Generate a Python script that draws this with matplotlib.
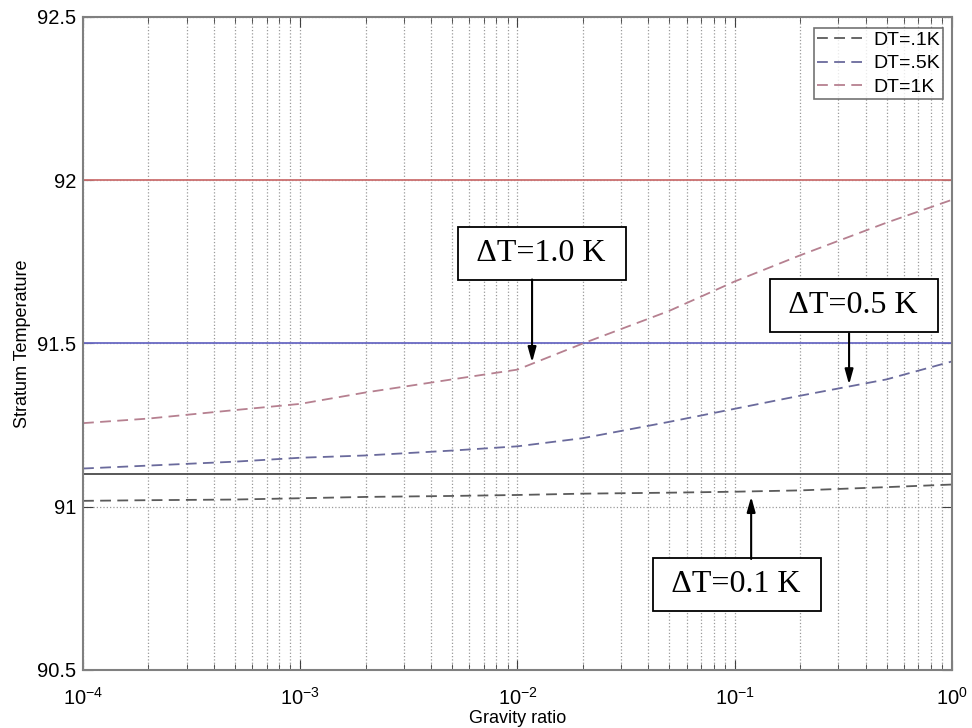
import numpy as np
import matplotlib
matplotlib.use("Agg")
import matplotlib.pyplot as plt
from matplotlib.ticker import LogLocator, NullFormatter, FixedLocator

plt.rcParams["font.family"] = ["Liberation Sans", "DejaVu Sans"]
plt.rcParams["mathtext.fontset"] = "custom"
plt.rcParams["mathtext.rm"] = "Liberation Sans"
plt.rcParams["mathtext.it"] = "Liberation Sans"
plt.rcParams["mathtext.default"] = "regular"
plt.rcParams["axes.unicode_minus"] = False

# gravity ratio (x) and stratum temperature (y)
gravity = [1e-4, 2e-4, 5e-4, 1e-3, 2e-3, 5e-3, 1e-2, 2e-2, 5e-2, 1e-1, 2e-1, 5e-1, 1.0]
temp_dt01 = [91.018, 91.020, 91.022, 91.026, 91.030, 91.033, 91.036,
             91.040, 91.043, 91.046, 91.050, 91.060, 91.068]
temp_dt05 = [91.117, 91.126, 91.138, 91.150, 91.157, 91.172, 91.185,
             91.210, 91.260, 91.300, 91.340, 91.390, 91.445]
temp_dt1 = [91.256, 91.270, 91.296, 91.315, 91.350, 91.390, 91.420,
            91.500, 91.600, 91.690, 91.770, 91.870, 91.940]

# reference levels (91 K + DT)
levels = [91.1, 91.5, 92.0]
legend_labels = ["DT=.1K", "DT=.5K", "DT=1K"]
box_labels = ["\u0394T=1.0 K", "\u0394T=0.5 K", "\u0394T=0.1 K"]

dash_colors = ["#5a5a5a", "#6a6a9c", "#b68090"]
level_colors = ["#4a4a4a", "#6a6ac4", "#cc7070"]

fig = plt.figure(figsize=(9.72, 7.28), dpi=100)
ax = fig.add_axes([0.0854, 0.0797, 0.894, 0.897])

for series, c, lab in zip([temp_dt01, temp_dt05, temp_dt1], dash_colors, legend_labels):
    ax.plot(gravity, series, linestyle=(0, (6, 3.5)), color=c, lw=1.3, label=lab)

for lev, c in zip(levels, level_colors):
    ax.axhline(lev, color=c, lw=1.3, zorder=1.5)

ax.set_xscale("log")
ax.set_xlim(1e-4, 1)
ax.set_ylim(90.5, 92.5)
ax.yaxis.set_major_locator(FixedLocator([90.5, 91, 91.5, 92, 92.5]))
ax.set_yticklabels(["90.5", "91", "91.5", "92", "92.5"])
ax.xaxis.set_major_locator(LogLocator(base=10, numticks=10))
ax.xaxis.set_minor_locator(LogLocator(base=10, subs=np.arange(2, 10), numticks=10))
ax.xaxis.set_minor_formatter(NullFormatter())

ax.grid(True, which="major", axis="both", linestyle=":", color="#9a9a9a", lw=0.9)
ax.grid(True, which="minor", axis="x", linestyle=":", color="#9a9a9a", lw=0.9)
ax.set_axisbelow(True)

ax.tick_params(which="both", direction="in", top=True, right=True, labelsize=14.5,
               color="#404040")
ax.tick_params(which="major", length=7)
ax.tick_params(which="minor", length=4)
ax.tick_params(axis="x", which="major", pad=12)
ax.tick_params(axis="y", which="major", pad=5)
for sp in ax.spines.values():
    sp.set_color("#808080")
    sp.set_linewidth(1.5)

ax.set_xlabel("Gravity ratio", fontsize=13, labelpad=1)
ax.set_ylabel("Stratum Temperature", fontsize=13, labelpad=4)

leg = ax.legend(loc="upper right", fontsize=14, frameon=True, fancybox=False,
                handlelength=2.3, handletextpad=0.6, borderpad=0.15, labelspacing=0.32,
                bbox_to_anchor=(0.9897, 0.983), borderaxespad=0)
leg.get_frame().set_edgecolor("#505050")
leg.get_frame().set_linewidth(1.2)

# annotation boxes and arrows (text centre, arrow start, arrow tip)
box_xy = [(0.01298, 91.776), (0.354, 91.617), (0.1023, 90.761)]
arrow_from = [(0.01167, 91.696), (0.336, 91.531), (0.119, 90.84)]
arrow_to = [(0.01167, 91.442), (0.336, 91.374), (0.119, 91.031)]

for lab, bxy, a0, a1 in zip(box_labels, box_xy, arrow_from, arrow_to):
    ax.text(bxy[0], bxy[1], " " + lab + " ", ha="center", va="center",
            fontsize=23, family=["Liberation Serif", "DejaVu Serif"],
            bbox=dict(boxstyle="square,pad=0.38", fc="white", ec="black", lw=1.3),
            zorder=5)
    ax.annotate("", xy=a1, xytext=a0,
                arrowprops=dict(arrowstyle="-|>,head_length=0.9,head_width=0.25",
                                color="black", lw=1.5, shrinkA=0, shrinkB=0),
                zorder=5)

fig.savefig("out.png", dpi=100)
